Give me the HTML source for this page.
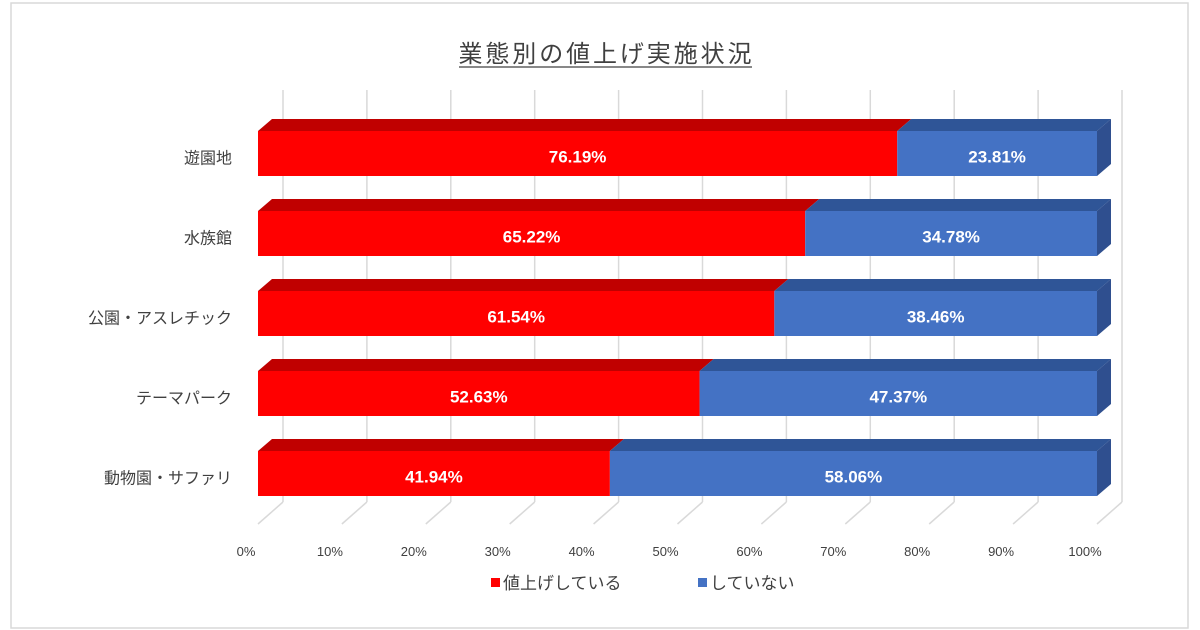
<!DOCTYPE html>
<html><head><meta charset="utf-8">
<style>
html,body{margin:0;padding:0;background:#fff;}
svg{display:block;font-family:"Liberation Sans","Noto Sans CJK JP",sans-serif;}
</style></head>
<body>
<svg id="chart" width="1200" height="630" viewBox="0 0 1200 630" xmlns="http://www.w3.org/2000/svg">
<rect x="11" y="3" width="1177" height="625" fill="#fff" stroke="#d9d9d9" stroke-width="1.5"/>
<text x="605" y="62" text-anchor="middle" font-size="24" fill="#404040" textLength="293">業態別の値上げ実施状況</text>
<line x1="459" y1="67" x2="752" y2="67" stroke="#404040" stroke-width="1.3"/>
<g id="grid"></g>
<g id="bars"></g>
<g id="labels"></g>
<g>
<rect x="491" y="578" width="9" height="9" fill="#ff0000"/>
<text x="503" y="589" font-size="17" fill="#404040">値上げしている</text>
<rect x="698" y="578" width="9" height="9" fill="#4472c4"/>
<text x="710" y="589" font-size="17" fill="#404040">していない</text>
</g>
</svg>
<script>
const categories = ["遊園地","水族館","公園・アスレチック","テーマパーク","動物園・サファリ"];
const raisedValues = [76.19,65.22,61.54,52.63,41.94];
const notRaisedValues = [23.81,34.78,38.46,47.37,58.06];
const tickLabels = ["0%","10%","20%","30%","40%","50%","60%","70%","80%","90%","100%"];

const NS="http://www.w3.org/2000/svg";
const x0=258, x1=1097, DX=14, DY=12, GX=25, GY=22;
const xs=v=>x0+(x1-x0)*v/100;
const rowY=i=>131+i*80; const H=45;
function mk(tag,attrs,parent){const e=document.createElementNS(NS,tag);for(const k in attrs)e.setAttribute(k,attrs[k]);parent.appendChild(e);return e;}
const grid=document.getElementById('grid'), bars=document.getElementById('bars'), labels=document.getElementById('labels');
tickLabels.forEach((t,i)=>{
  const x=xs(i*10);
  const g=mk('line',{x1:x+GX,y1:90,x2:x+GX,y2:502,stroke:'#d9d9d9','stroke-width':1.5},grid);
  
  
  const f=mk('line',{x1:x+GX,y1:502,x2:x,y2:524,stroke:'#d9d9d9','stroke-width':1.5},grid);
  
  
  const tl=mk('text',{x:x-12,y:556,'text-anchor':'middle','font-size':13,fill:'#404040'},labels);
  tl.textContent=t;
  
  
});
function seg(a,b,y,front,top,side,name,val){
  const xa=xs(a), xb=xs(b);
  const t=mk('polygon',{points:`${xa},${y} ${xa+DX},${y-DY} ${xb+DX},${y-DY} ${xb},${y}`,fill:top},bars);
  
  
  const r=mk('rect',{x:xa,y:y,width:xb-xa,height:H,fill:front},bars);
  
  
  if(side){const s=mk('polygon',{points:`${xb},${y} ${xb+DX},${y-DY} ${xb+DX},${y+H-DY} ${xb},${y+H}`,fill:side},bars);
    
    }
  const l=mk('text',{x:(xa+xb)/2,y:y+H/2+9,'text-anchor':'middle','font-size':17,'font-weight':'bold',fill:'#fff'},labels);
  l.textContent=val.toFixed(2)+'%';
  
  
}
categories.forEach((c,i)=>{
  const y=rowY(i);
  const r=raisedValues[i], n=notRaisedValues[i];
  seg(0,r,y,'#ff0000','#c00000',null,'bar-raised-'+i,r);
  seg(r,r+n,y,'#4472c4','#2f5597','#2f4f8f','bar-not-raised-'+i,n);
  const cl=mk('text',{x:232,y:y+H/2+10,'text-anchor':'end','font-size':16,fill:'#404040'},labels);
  cl.textContent=c;
  
  
});
</script>
</body></html>
